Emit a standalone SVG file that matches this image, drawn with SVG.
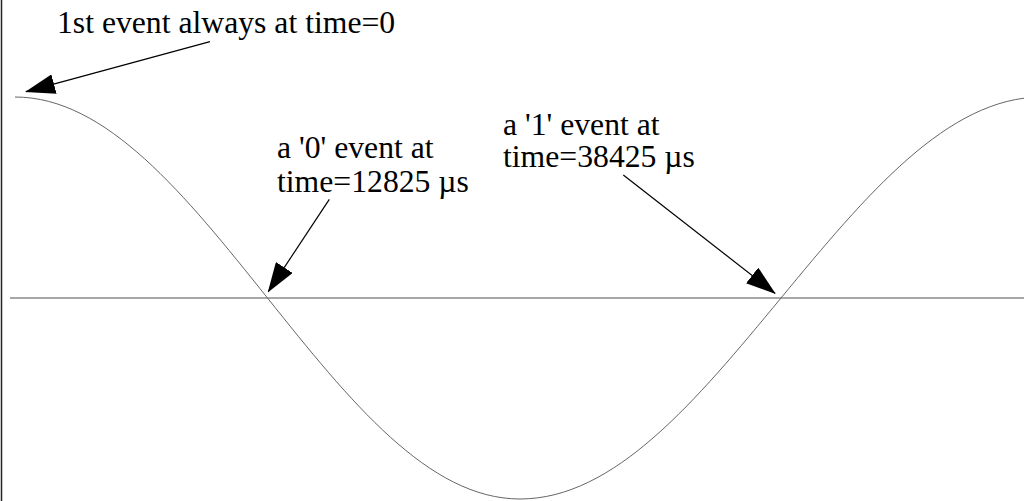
<svg xmlns="http://www.w3.org/2000/svg" width="1024" height="501" viewBox="0 0 1024 501">
<defs>
<style>
.lbl{font-family:'Liberation Serif','DejaVu Serif',serif;font-size:31.7px;fill:#000}
.arrow{stroke:#000;stroke-width:1.2;fill:none;marker-end:url(#ah)}
</style>
<marker id="ah" markerUnits="userSpaceOnUse" markerWidth="30" markerHeight="20" refX="29" refY="10" orient="auto" viewBox="0 0 30 20">
<path d="M0,0 L30,10 L0,20 z" fill="#000"/>
</marker>
</defs>
<rect width="1024" height="501" fill="#fff"/>
<g id="frame">
<line x1="1.5" y1="0" x2="1.5" y2="501" stroke="#222" stroke-width="1.5"/>
</g>
<g id="axis">
<line x1="10" y1="298" x2="1024" y2="298" stroke="#8a8a8a" stroke-width="1.3"/>
</g>
<g id="wave">
<path d="M15,97 C106.4,97 185.2,195 267.5,298 C349.8,401 428.6,499 520,499 C614.5,499 695.9,401 781,298 C866.1,195 947.5,97 1042,97" fill="none" stroke="#666" stroke-width="1"/>
</g>
<g id="label-first">
<text class="lbl" font-family="'Liberation Serif','DejaVu Serif',serif" x="57" y="33">1st event always at time=0</text>
</g>
<g id="label-zero">
<text class="lbl" font-family="'Liberation Serif','DejaVu Serif',serif" x="277" y="158">a '0' event at</text>
<text class="lbl" font-family="'Liberation Serif','DejaVu Serif',serif" x="277" y="191.5">time=12825 µs</text>
</g>
<g id="label-one">
<text class="lbl" font-family="'Liberation Serif','DejaVu Serif',serif" x="503" y="135">a '1' event at</text>
<text class="lbl" font-family="'Liberation Serif','DejaVu Serif',serif" x="503" y="167">time=38425 µs</text>
</g>
<g id="connectors">
<line class="arrow" x1="210" y1="41.7" x2="26" y2="91.7"/>
<line class="arrow" x1="329.3" y1="199.3" x2="268.3" y2="291.7"/>
<line class="arrow" x1="623.3" y1="175" x2="775" y2="293.3"/>
</g>
</svg>
